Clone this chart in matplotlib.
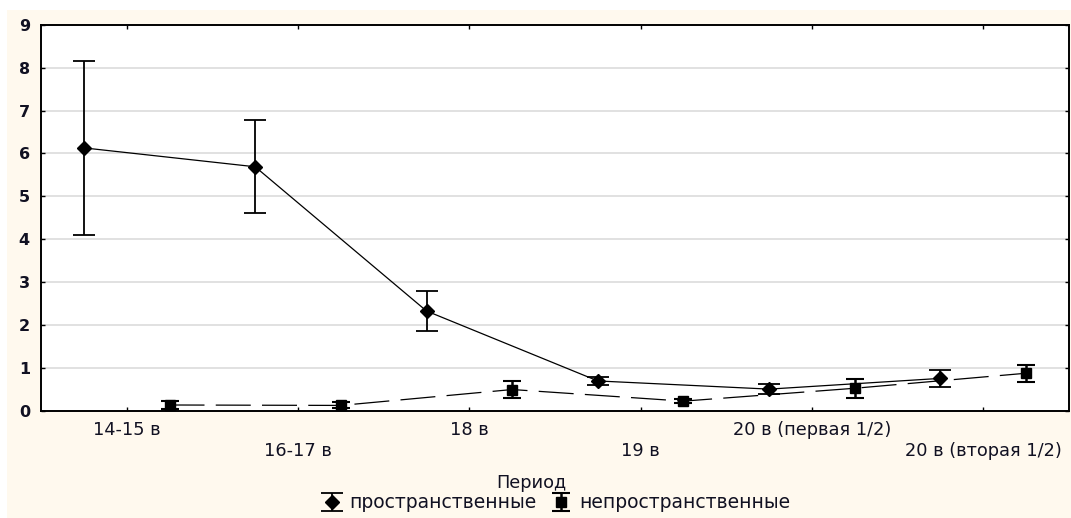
import numpy as np
import matplotlib.pyplot as plt
from matplotlib.patches import Rectangle

plt.rcParams['font.family'] = ['DejaVu Sans']

# средние и доверительные интервалы по периодам
periods = ['14-15 в', '16-17 в', '18 в', '19 в', '20 в (первая 1/2)', '20 в (вторая 1/2)']
spatial = [6.13, 5.69, 2.33, 0.70, 0.51, 0.76]
spatial_err = [2.02, 1.08, 0.46, 0.09, 0.11, 0.19]
nonspatial = [0.14, 0.13, 0.50, 0.23, 0.53, 0.88]
nonspatial_err = [0.09, 0.07, 0.20, 0.05, 0.22, 0.20]

x = np.arange(len(periods))
shift = 0.25
txt = '#111122'

fig = plt.figure(figsize=(10.71, 5.18), dpi=100, facecolor='white')
# кремовая подложка под всем графиком
fig.patches.append(Rectangle((7/1071, 0), 1 - 7/1071, 1 - 10/518, transform=fig.transFigure,
                             facecolor='#fff9ee', edgecolor='none', zorder=-10))

ax = fig.add_axes([41/1071, 1 - 411/518, 1028/1071, (411 - 24.7)/518])
ax.set_facecolor('white')

# линии
ax.plot(x - shift, spatial, color='black', lw=0.9, zorder=3)
ax.plot(x + shift, nonspatial, color='black', lw=0.9, dashes=(28, 9), zorder=3)

# маркеры с усами
ax.errorbar(x - shift, spatial, yerr=spatial_err, fmt='D', ms=7.5, color='black',
            ecolor='black', elinewidth=1.3, capsize=8, capthick=1.3, zorder=4,
            label='пространственные')
ax.errorbar(x + shift, nonspatial, yerr=nonspatial_err, fmt='s', ms=7, color='black',
            ecolor='black', elinewidth=1.8, capsize=6.5, capthick=1.5, zorder=4,
            label='непространственные')

ax.set_xlim(-0.5, 5.5)
ax.set_ylim(0, 9)
ax.set_yticks(range(0, 10))
ax.set_xticks(x)
ax.set_xticklabels([p if i % 2 == 0 else '\n' + p for i, p in enumerate(periods)])
ax.yaxis.grid(True, color='#dcdcdc', lw=1.2)
ax.set_axisbelow(True)

ax.tick_params(axis='both', direction='in', length=3, width=1, colors='black',
               top=True, right=True)
ax.tick_params(axis='x', pad=7.5, labelsize=12.8, labelcolor=txt)
ax.tick_params(axis='y', pad=8, labelsize=11.5, labelcolor=txt)
for lab in ax.get_yticklabels():
    lab.set_fontweight('bold')
for s in ax.spines.values():
    s.set_linewidth(1.4)

fig.text(531/1071, 1 - 483/518, 'Период', ha='center', va='center', fontsize=12.8, color=txt)
leg = fig.legend(loc='center', bbox_to_anchor=(557/1071, 1 - 503/518), ncol=2,
                 frameon=False, fontsize=13.5, handletextpad=0.55, columnspacing=0.9,
                 handlelength=0.8)
for t in leg.get_texts():
    t.set_color(txt)

fig.savefig('out.png', dpi=100, facecolor=fig.get_facecolor())
